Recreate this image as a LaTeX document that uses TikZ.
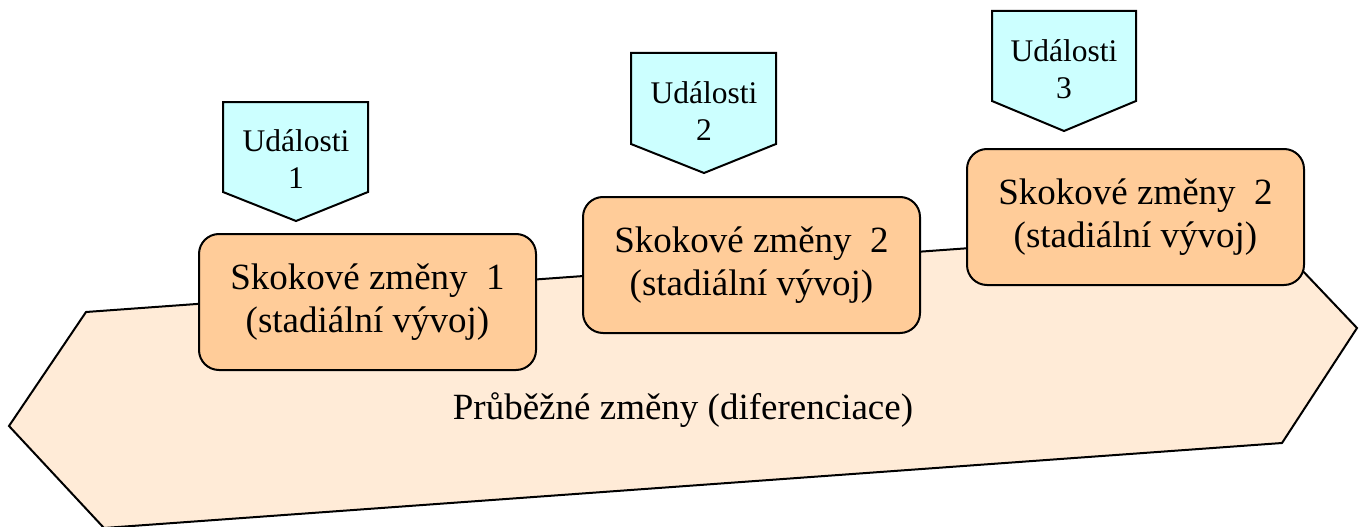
\documentclass[tikz,border=0pt]{standalone}
\usepackage{fontspec}
\setmainfont{Liberation Serif}
\definecolor{evcyan}{HTML}{CCFFFF}
\definecolor{boxorange}{HTML}{FFCC99}
\definecolor{hexfill}{HTML}{FFEBD7}
\begin{document}
\begin{tikzpicture}[x=1pt,y=-1pt,
  outline/.style={draw=black,line width=2pt,line join=miter},
  stagebox/.style={outline,fill=boxorange,rounded corners=20pt,minimum width=337pt,minimum height=136pt,inner sep=0pt,align=center,font=\fontsize{37}{43}\selectfont},
  eventtext/.style={align=center,inner sep=0pt,font=\fontsize{31.5}{37}\selectfont},
  basetext/.style={inner sep=0pt,font=\fontsize{37}{43}\selectfont}]
\useasboundingbox (0,0) rectangle (1365,527);
\clip (0,0) rectangle (1365,527);
% background hexagon
\draw[outline,fill=hexfill] (9,426) -- (86,312) -- (1261,227) -- (1357,328) -- (1282,443) -- (104,528) -- cycle;
\node[basetext] (base) at (683,410) {Průběžné změny (diferenciace)};
% stage boxes
\node[stagebox] (s1) at (367.5,302) {Skokové změny\ \ 1\\(stadiální vývoj)};
\node[stagebox] (s2) at (751.5,265) {Skokové změny\ \ 2\\(stadiální vývoj)};
\node[stagebox] (s3) at (1135.5,217) {Skokové změny\ \ 2\\(stadiální vývoj)};
% event pentagons
\draw[outline,fill=evcyan] (223,102) -- (368,102) -- (368,192) -- (296,221) -- (223,192) -- cycle;
\node[eventtext] (e1) at (296,159) {Události\\1};
\draw[outline,fill=evcyan] (631,53) -- (776,53) -- (776,144) -- (704,173) -- (631,144) -- cycle;
\node[eventtext] (e2) at (704,111) {Události\\2};
\draw[outline,fill=evcyan] (992,11) -- (1136,11) -- (1136,101) -- (1064,131) -- (992,101) -- cycle;
\node[eventtext] (e3) at (1064,69) {Události\\3};
\end{tikzpicture}
\end{document}
